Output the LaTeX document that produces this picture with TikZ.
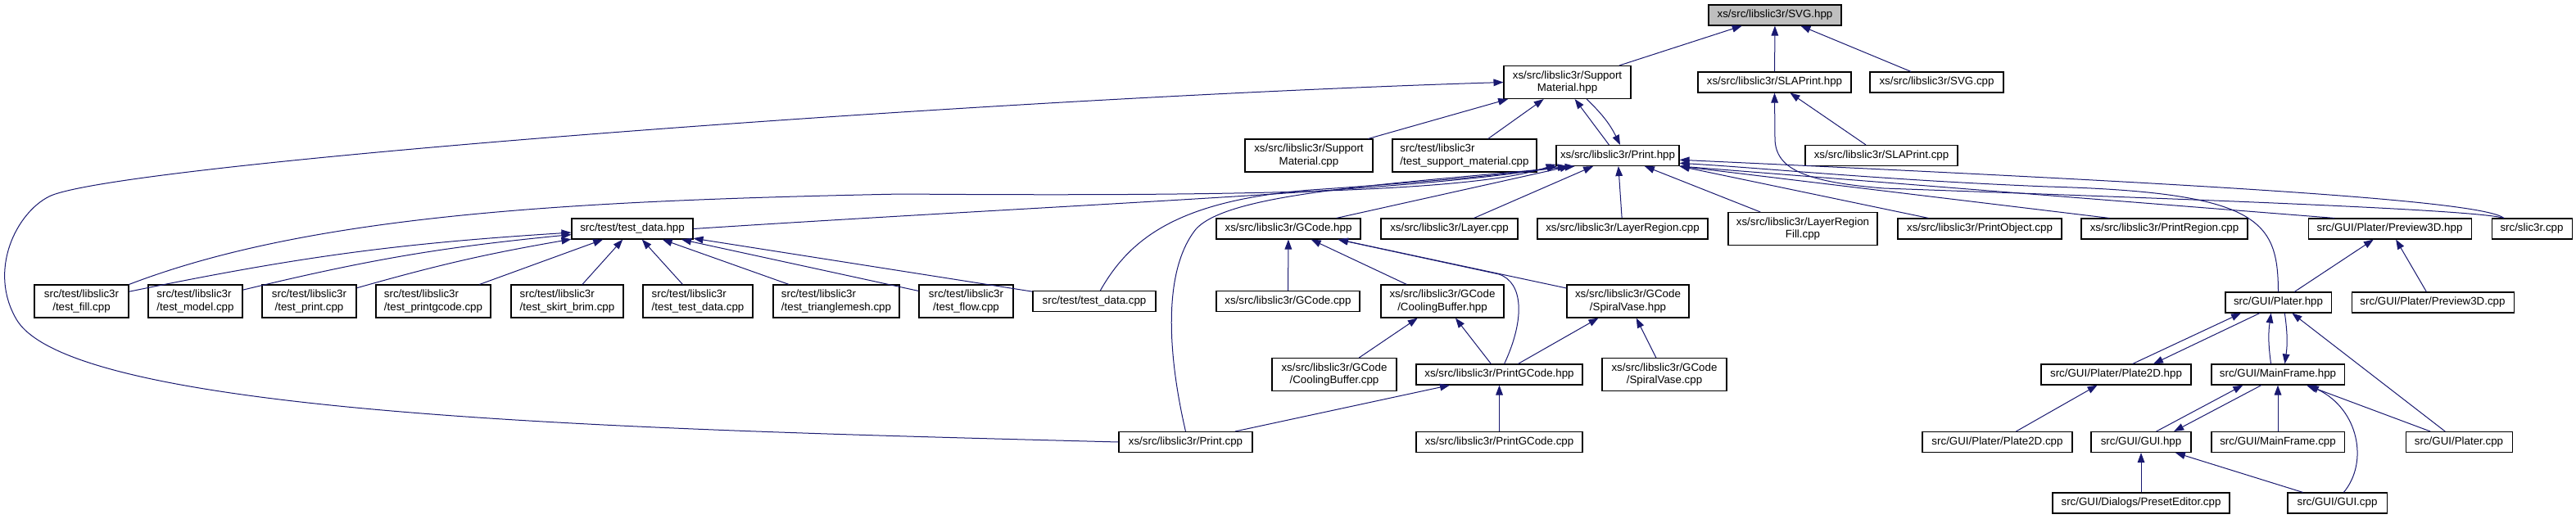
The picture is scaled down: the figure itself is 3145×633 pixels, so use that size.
\documentclass[tikz,border=0pt]{standalone}
\usepackage{fontspec}
\setmainfont{Liberation Sans}
\usetikzlibrary{arrows.meta}

\definecolor{nodeGray}{HTML}{BFBFBF}
\definecolor{edgeBlue}{HTML}{191970}

\begin{document}
\begin{tikzpicture}[
    x=0.75pt, y=-0.75pt,
    font=\fontsize{10pt}{11.5pt}\selectfont,
    fileNode/.style={
        rectangle,
        draw=black,
        fill=white,
        line width=0.8pt,
        align=center,
        inner xsep=2pt,
        inner ysep=1pt,
        minimum width=#1*0.75pt,
        minimum height=18.75pt
    },
    fileNodeTwo/.style={
        fileNode=#1,
        minimum height=30pt
    },
    rootNode/.style={
        fileNode=#1,
        fill=nodeGray
    },
    incl/.style={
        draw=edgeBlue,
        line width=0.75pt,
        -{Triangle[length=9pt,width=6.5pt]}
    }
]
\useasboundingbox (0,0) rectangle (3145,633);

% ==================== FILES ====================
\node[rootNode=162] (svgHpp) at (2167,18.5) {xs/src/libslic3r/SVG.hpp};

\node[fileNodeTwo=155] (supportHpp) at (1913.5,100.5) {xs/src/libslic3r/Support\\Material.hpp};
\node[fileNode=187] (slaPrintHpp) at (2166.5,100.5) {xs/src/libslic3r/SLAPrint.hpp};
\node[fileNode=163] (svgCpp) at (2364.5,100.5) {xs/src/libslic3r/SVG.cpp};

\node[fileNodeTwo=156] (supportCpp) at (1598,190) {xs/src/libslic3r/Support\\Material.cpp};
\node[fileNodeTwo=176, align=left] (testSupportCpp) at (1788,190) {src/test/libslic3r\\/test\_support\_material.cpp};
\node[fileNode=150] (printHpp) at (1975,190) {xs/src/libslic3r/Print.hpp};
\node[fileNode=186] (slaPrintCpp) at (2297,190) {xs/src/libslic3r/SLAPrint.cpp};

\node[fileNode=148] (testDataHpp) at (772,279.5) {src/test/test\_data.hpp};
\node[fileNode=176] (gcodeHpp) at (1573,279.5) {xs/src/libslic3r/GCode.hpp};
\node[fileNode=167] (layerCpp) at (1769.5,279.5) {xs/src/libslic3r/Layer.cpp};
\node[fileNode=208] (layerRegionCpp) at (1981,279.5) {xs/src/libslic3r/LayerRegion.cpp};
\node[fileNodeTwo=182] (layerRegionFillCpp) at (2201,279.5) {xs/src/libslic3r/LayerRegion\\Fill.cpp};
\node[fileNode=200] (printObjectCpp) at (2417,279.5) {xs/src/libslic3r/PrintObject.cpp};
\node[fileNode=203] (printRegionCpp) at (2642.5,279.5) {xs/src/libslic3r/PrintRegion.cpp};
\node[fileNode=199] (preview3DHpp) at (2917.5,279.5) {src/GUI/Plater/Preview3D.hpp};
\node[fileNode=98] (slic3rCpp) at (3091,279.5) {src/slic3r.cpp};

\node[fileNodeTwo=115] (testFillCpp) at (99.5,368) {src/test/libslic3r\\/test\_fill.cpp};
\node[fileNodeTwo=115, align=left] (testModelCpp) at (238.5,368) {src/test/libslic3r\\/test\_model.cpp};
\node[fileNodeTwo=115] (testPrintCpp) at (377.5,368) {src/test/libslic3r\\/test\_print.cpp};
\node[fileNodeTwo=140, align=left] (testPrintGCodeCpp) at (529,368) {src/test/libslic3r\\/test\_printgcode.cpp};
\node[fileNodeTwo=137, align=left] (testSkirtBrimCpp) at (692.5,368) {src/test/libslic3r\\/test\_skirt\_brim.cpp};
\node[fileNodeTwo=134, align=left] (testTestDataCpp) at (852,368) {src/test/libslic3r\\/test\_test\_data.cpp};
\node[fileNodeTwo=154, align=left] (testTriangleMeshCpp) at (1021,368) {src/test/libslic3r\\/test\_trianglemesh.cpp};
\node[fileNodeTwo=115] (testFlowCpp) at (1179.5,368) {src/test/libslic3r\\/test\_flow.cpp};
\node[fileNode=150] (testDataCpp) at (1336,368) {src/test/test\_data.cpp};
\node[fileNode=175] (gcodeCpp) at (1572.5,368) {xs/src/libslic3r/GCode.cpp};
\node[fileNodeTwo=150] (coolingBufferHpp) at (1761,368) {xs/src/libslic3r/GCode\\/CoolingBuffer.hpp};
\node[fileNodeTwo=149] (spiralVaseHpp) at (1987.5,368) {xs/src/libslic3r/GCode\\/SpiralVase.hpp};
\node[fileNode=129] (platerHpp) at (2781.5,369.5) {src/GUI/Plater.hpp};
\node[fileNode=198] (preview3DCpp) at (2970,369.5) {src/GUI/Plater/Preview3D.cpp};

\node[fileNodeTwo=152] (coolingBufferCpp) at (1629,457.5) {xs/src/libslic3r/GCode\\/CoolingBuffer.cpp};
\node[fileNode=203] (printGCodeHpp) at (1830.5,457.5) {xs/src/libslic3r/PrintGCode.hpp};
\node[fileNodeTwo=152] (spiralVaseCpp) at (2032,457.5) {xs/src/libslic3r/GCode\\/SpiralVase.cpp};
\node[fileNode=183] (plate2DHpp) at (2583.5,457.5) {src/GUI/Plater/Plate2D.hpp};
\node[fileNode=162] (mainFrameHpp) at (2781,457.5) {src/GUI/MainFrame.hpp};

\node[fileNode=163] (printCpp) at (1447.5,540) {xs/src/libslic3r/Print.cpp};
\node[fileNode=203] (printGCodeCpp) at (1830.5,540) {xs/src/libslic3r/PrintGCode.cpp};
\node[fileNode=183] (plate2DCpp) at (2438.5,540) {src/GUI/Plater/Plate2D.cpp};
\node[fileNode=122] (guiHpp) at (2614,540) {src/GUI/GUI.hpp};
\node[fileNode=162] (mainFrameCpp) at (2781,540) {src/GUI/MainFrame.cpp};
\node[fileNode=130] (platerCpp) at (3002,540) {src/GUI/Plater.cpp};

\node[fileNode=216] (presetEditorCpp) at (2614,614.5) {src/GUI/Dialogs/PresetEditor.cpp};
\node[fileNode=121] (guiCpp) at (2853.5,614.5) {src/GUI/GUI.cpp};

% ==================== INCLUDES ====================

% SVG.hpp
\draw[incl] (supportHpp) -- (svgHpp);
\draw[incl] (slaPrintHpp) -- (svgHpp);
\draw[incl] (svgCpp) -- (svgHpp);

% SupportMaterial.hpp
\draw[incl] (printCpp.west) .. controls (800,525) and (90,510) .. (20,390)
    .. controls (-15,330) and (20,260) .. (60,240)
    .. controls (140,200) and (1200,120) .. (supportHpp.west);
\draw[incl] (supportCpp) -- (supportHpp);
\draw[incl] (testSupportCpp) -- (supportHpp);
\draw[incl] (printHpp.129) -- (supportHpp.-66);

% SLAPrint.hpp
\draw[incl] (slaPrintCpp) -- (slaPrintHpp);
\draw[incl] (slic3rCpp.159) .. controls (3020,255) and (2600,241) .. (2300,230)
    .. controls (2200,222) and (2168,205) .. (2167,170) -- (slaPrintHpp.south);

% Print.hpp
\draw[incl] (supportHpp.-41) to[bend left=10] (printHpp.77);
\draw[incl] (testFillCpp.north east) .. controls (380,262) and (700,245) .. (1100,237)
    .. controls (1500,240) and (1800,235) .. (printHpp.-172);
\draw[incl] (testDataHpp.east) .. controls (1300,250) and (1750,232) .. (printHpp.-170);
\draw[incl] (testDataCpp) .. controls (1380,290) and (1440,245) .. (1600,232)
    .. controls (1750,222) and (1850,212) .. (printHpp.-168);
\draw[incl] (printCpp.north) .. controls (1425,430) and (1420,330) .. (1460,280)
    .. controls (1500,235) and (1700,225) .. (printHpp.-166);
\draw[incl] (gcodeHpp) -- (printHpp);
\draw[incl] (layerCpp) -- (printHpp);
\draw[incl] (layerRegionCpp) -- (printHpp);
\draw[incl] (layerRegionFillCpp) -- (printHpp);
\draw[incl] (printObjectCpp) -- (printHpp.south east);
\draw[incl] (printRegionCpp.169) -- (printHpp.south east);
\draw[incl] (preview3DHpp.169) -- (printHpp.south east);
\draw[incl] (slic3rCpp.159) .. controls (3030,245) and (2700,225) .. (printHpp.-4);
\draw[incl] (platerHpp.north) .. controls (2781,270) and (2760,235) .. (2500,228)
    .. controls (2300,220) and (2150,205) .. (printHpp.-7);

% test_data.hpp
\draw[incl] (testFillCpp) to[bend left=4] (testDataHpp);
\draw[incl] (testModelCpp) to[bend left=4] (testDataHpp);
\draw[incl] (testPrintCpp) to[bend left=3] (testDataHpp);
\draw[incl] (testPrintGCodeCpp) -- (testDataHpp);
\draw[incl] (testSkirtBrimCpp) -- (testDataHpp);
\draw[incl] (testTestDataCpp) -- (testDataHpp);
\draw[incl] (testTriangleMeshCpp) -- (testDataHpp);
\draw[incl] (testFlowCpp) -- (testDataHpp);
\draw[incl] (testDataCpp) -- (testDataHpp);

% GCode.hpp
\draw[incl] (gcodeCpp) -- (gcodeHpp);
\draw[incl] (coolingBufferHpp) -- (gcodeHpp);
\draw[incl] (spiralVaseHpp) -- (gcodeHpp);
\draw[incl] (printGCodeHpp) .. controls (1862,390) and (1860,345) .. (1830,335) -- (gcodeHpp);

% CoolingBuffer.hpp, SpiralVase.hpp
\draw[incl] (coolingBufferCpp) -- (coolingBufferHpp);
\draw[incl] (printGCodeHpp) -- (coolingBufferHpp);
\draw[incl] (printGCodeHpp) -- (spiralVaseHpp);
\draw[incl] (spiralVaseCpp) -- (spiralVaseHpp);

% PrintGCode.hpp
\draw[incl] (printGCodeCpp) -- (printGCodeHpp);
\draw[incl] (printCpp) -- (printGCodeHpp);

% Preview3D.hpp
\draw[incl] (platerHpp) -- (preview3DHpp);
\draw[incl] (preview3DCpp) -- (preview3DHpp);

% Plater.hpp
\draw[incl] (plate2DHpp.33) -- (platerHpp.-164);
\draw[incl] (platerHpp.-150) -- (plate2DHpp.16);
\draw[incl] (mainFrameHpp.123) to[bend left=8] (platerHpp.-124);
\draw[incl] (platerHpp.-59) to[bend left=8] (mainFrameHpp.57);
\draw[incl] (platerCpp) -- (platerHpp);

% Plate2D.hpp, MainFrame.hpp
\draw[incl] (plate2DCpp) -- (plate2DHpp);
\draw[incl] (guiHpp.35) -- (mainFrameHpp.-163);
\draw[incl] (mainFrameHpp.-147) -- (guiHpp.18);
\draw[incl] (mainFrameCpp) -- (mainFrameHpp);
\draw[incl] (platerCpp) -- (mainFrameHpp);
\draw[incl] (guiCpp.59) .. controls (2892,565) and (2880,500) .. (mainFrameHpp.-19);

% GUI.hpp
\draw[incl] (presetEditorCpp) -- (guiHpp);
\draw[incl] (guiCpp) -- (guiHpp);

\end{tikzpicture}
\end{document}
